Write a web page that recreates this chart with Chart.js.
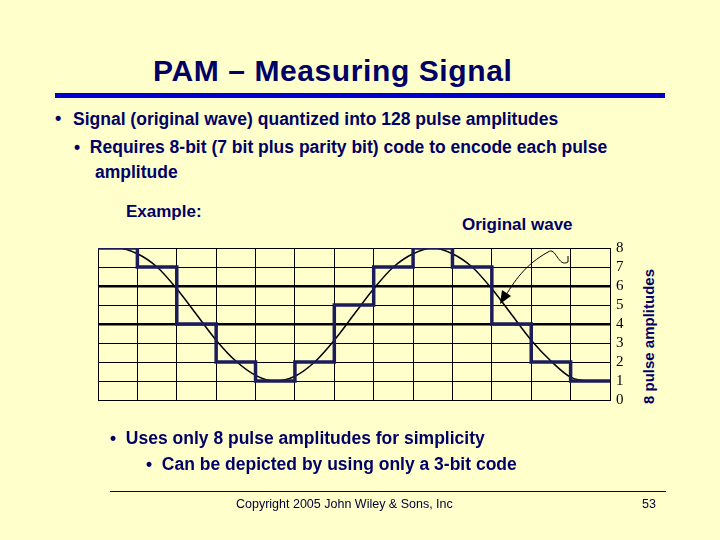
<!DOCTYPE html>
<html>
<head>
<meta charset="utf-8">
<script src="https://cdn.jsdelivr.net/npm/chart.js@4"></script>
<style>
body { margin: 0; background: #ffffcc; }
#slide { position: relative; width: 720px; height: 540px; background: #ffffcc; overflow: hidden;
  font-family: "Liberation Sans", Arial, sans-serif; color: #000066; font-weight: bold; }
.t { position: absolute; white-space: nowrap; }
#chartBox { position: absolute; left: 98px; top: 233px; width: 540px; height: 182px; }
</style>
</head>
<body>
<div id="slide">
  <div class="t" style="left:153px;top:54px;font-size:30px;letter-spacing:0.6px;">PAM – Measuring Signal</div>
  <div style="position:absolute;left:55px;top:93px;width:610px;height:5px;background:#0000cc;"></div>
  <div class="t" style="left:55px;top:108px;font-size:18px;">•</div>
  <div class="t" style="left:73px;top:109px;font-size:17.5px;">Signal (original wave) quantized into 128 pulse amplitudes</div>
  <div class="t" style="left:74px;top:137px;font-size:17.5px;">•&nbsp; Requires 8-bit (7 bit plus parity bit) code to encode each pulse</div>
  <div class="t" style="left:95px;top:162px;font-size:17.5px;">amplitude</div>
  <div class="t" style="left:126px;top:202px;font-size:17px;">Example:</div>
  <div class="t" style="left:462px;top:215px;font-size:17px;">Original wave</div>
  <div class="t" style="left:640px;top:404px;font-size:15px;transform:rotate(-90deg);transform-origin:0 0;">8 pulse amplitudes</div>
  <div id="chartBox"><canvas id="chartPam"></canvas></div>
  <svg style="position:absolute;left:0;top:0" width="720" height="540">
    <path d="M503,300 C515,280 525,265 548,252 C556,246 558,268 568,262 L568,256" fill="none" stroke="#000" stroke-width="1"/>
    <polygon points="500,304 502,290 511,296" fill="#000"/>
  </svg>
  <div class="t" style="left:110px;top:428px;font-size:17.5px;">•&nbsp; Uses only 8 pulse amplitudes for simplicity</div>
  <div class="t" style="left:146px;top:454px;font-size:17.5px;">•&nbsp; Can be depicted by using only a 3-bit code</div>
  <div style="position:absolute;left:110px;top:491px;width:556px;height:1px;background:#000066;"></div>
  <div class="t" style="left:236px;top:497px;font-size:12.5px;font-weight:normal;color:#000033;">Copyright 2005 John Wiley &amp; Sons, Inc</div>
  <div class="t" style="left:642px;top:497px;font-size:12.5px;font-weight:normal;color:#000033;">53</div>
</div>
<script>
// quantized level for each of the 13 sample intervals
const stepLevels = [8, 7, 4, 2, 1, 2, 5, 7, 8, 7, 4, 2, 1];
const waveX = [0, 0.5, 1, 1.5, 2, 2.5, 3, 3.5, 4, 4.5, 5, 5.5, 6, 6.5, 7, 7.5, 8, 8.5, 9, 9.5, 10, 10.5, 11, 11.5, 12, 12.5, 13];
const waveY = [8, 8, 7.7, 7.0, 5.85, 4.5, 3.15, 2.05, 1.3, 1, 1.25, 2.0, 3.15, 4.5, 5.85, 7.0, 7.7, 8, 7.7, 7.0, 5.85, 4.5, 3.15, 2.05, 1.2, 1, 1];
const levelTicks = [0, 1, 2, 3, 4, 5, 6, 7, 8];

// each level is held from x=i to x=i+1
const stepPoints = [{ x: 0, y: stepLevels[0] }];
stepLevels.forEach((v, i) => stepPoints.push({ x: i + 1, y: v }));
const wavePoints = waveX.map((x, i) => ({ x: x, y: waveY[i] }));

new Chart(document.getElementById('chartPam'), {
    type: 'line',
    data: {
        datasets: [{
            data: stepPoints,
            stepped: 'after',
            borderColor: '#1c1c5c',
            borderWidth: 3.5,
            pointRadius: 0
        }, {
            data: wavePoints,
            cubicInterpolationMode: 'monotone',
            borderColor: '#000000',
            borderWidth: 1.5,
            pointRadius: 0
        }]
    },
    options: {
        responsive: true,
        maintainAspectRatio: false,
        animation: false,
        layout: { padding: { top: 8, bottom: 10 } },
        plugins: { legend: { display: false }, tooltip: { enabled: false } },
        scales: {
            x: {
                type: 'linear', min: 0, max: 13,
                ticks: { display: false, stepSize: 1 },
                grid: { color: '#000', lineWidth: 1, drawTicks: false },
                border: { color: '#000' }
            },
            y: {
                position: 'right', min: 0, max: 8,
                afterBuildTicks: axis => { axis.ticks = levelTicks.map(v => ({ value: v })); },
                afterFit: axis => { axis.width = 28; },
                ticks: { color: '#000', padding: 6, autoSkip: false, font: { family: 'Liberation Serif', size: 15 } },
                grid: {
                    color: '#000', drawTicks: false,
                    lineWidth: ctx => (ctx.tick && (ctx.tick.value === 4 || ctx.tick.value === 6)) ? 2.5 : 1
                },
                border: { color: '#000' }
            }
        }
    }
});
</script>
</body>
</html>
